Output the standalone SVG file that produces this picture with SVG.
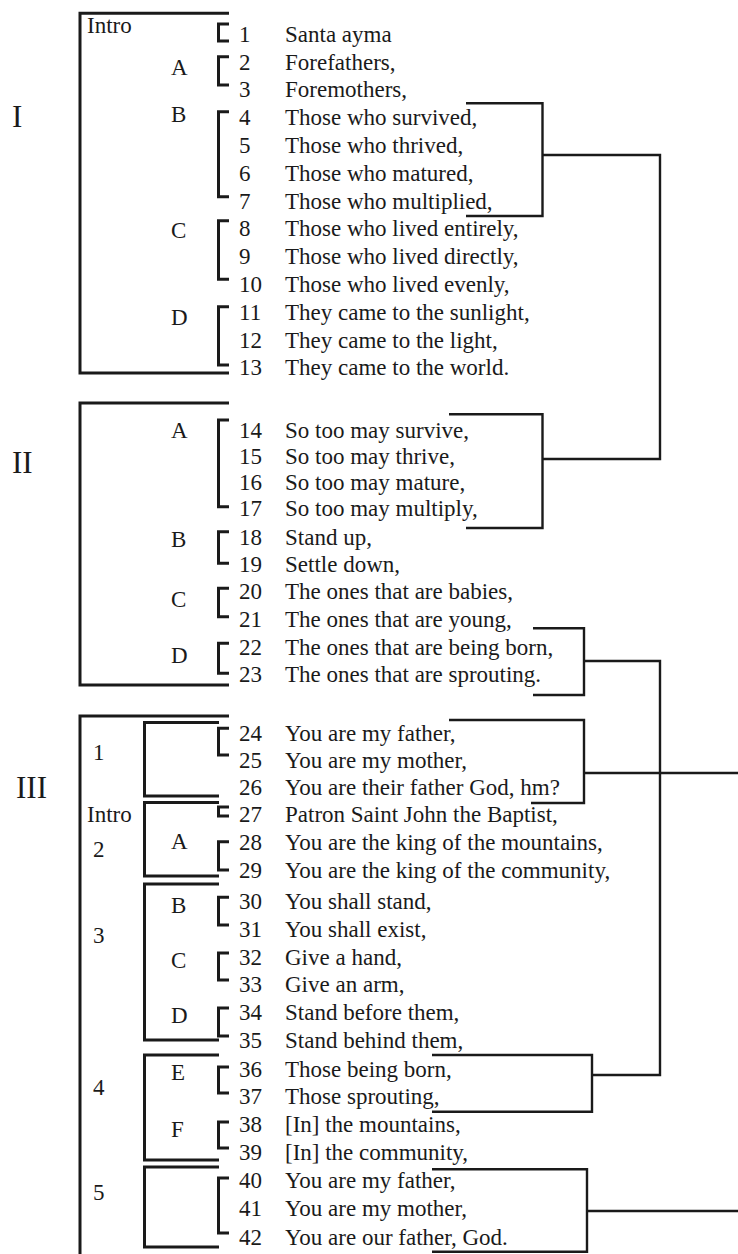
<svg xmlns="http://www.w3.org/2000/svg" width="738" height="1254" viewBox="0 0 738 1254">
<style>
text{font-family:"Liberation Serif","Times New Roman",serif;fill:#1a1a1a}
.t{font-size:23px}
.rn{font-size:31px}
.box,.br,.cn{fill:none;stroke:#1a1a1a;stroke-linejoin:miter}
.box{stroke-width:3}
.br{stroke-width:3}
.cn{stroke-width:2.4}
</style>
<rect width="738" height="1254" fill="#fff"/>
<g id="section-I">
<text class="rn" x="12" y="126.7">I</text>
<path class="box" d="M229 13.3H80V373H229"/>
<text class="t" x="87" y="33.3">Intro</text>
<text class="t" x="171" y="75">A</text>
<text class="t" x="171" y="122">B</text>
<text class="t" x="171" y="238">C</text>
<text class="t" x="171" y="325">D</text>
<path class="br" d="M229 24H218.5V41H229M229 56.7H218.5V85H229M229 111.7H218.5V196.7H229M229 220.7H218.5V279.3H229M229 306.7H218.5V365H229"/>
<g class="t">
<text class="t" x="239" y="41.7">1</text><text class="t" x="285" y="41.7">Santa ayma</text>
<text class="t" x="239" y="69.5">2</text><text class="t" x="285" y="69.5">Forefathers,</text>
<text class="t" x="239" y="97.3">3</text><text class="t" x="285" y="97.3">Foremothers,</text>
<text class="t" x="239" y="125.1">4</text><text class="t" x="285" y="125.1">Those who survived,</text>
<text class="t" x="239" y="152.9">5</text><text class="t" x="285" y="152.9">Those who thrived,</text>
<text class="t" x="239" y="180.7">6</text><text class="t" x="285" y="180.7">Those who matured,</text>
<text class="t" x="239" y="208.5">7</text><text class="t" x="285" y="208.5">Those who multiplied,</text>
<text class="t" x="239" y="236.3">8</text><text class="t" x="285" y="236.3">Those who lived entirely,</text>
<text class="t" x="239" y="264.1">9</text><text class="t" x="285" y="264.1">Those who lived directly,</text>
<text class="t" x="239" y="291.9">10</text><text class="t" x="285" y="291.9">Those who lived evenly,</text>
<text class="t" x="239" y="319.7">11</text><text class="t" x="285" y="319.7">They came to the sunlight,</text>
<text class="t" x="239" y="347.5">12</text><text class="t" x="285" y="347.5">They came to the light,</text>
<text class="t" x="239" y="375.3">13</text><text class="t" x="285" y="375.3">They came to the world.</text>
</g>
</g>
<g id="section-II">
<text class="rn" x="12" y="473">II</text>
<path class="box" d="M229 403H80V685H229"/>
<text class="t" x="171" y="438">A</text>
<text class="t" x="171" y="547">B</text>
<text class="t" x="171" y="607">C</text>
<text class="t" x="171" y="663">D</text>
<path class="br" d="M229 420H218.5V506.7H229M229 531.7H218.5V563.3H229M229 588.3H218.5V616.7H229M229 643.3H218.5V673.3H229"/>
<text class="t" x="239" y="438">14</text><text class="t" x="285" y="438">So too may survive,</text>
<text class="t" x="239" y="464">15</text><text class="t" x="285" y="464">So too may thrive,</text>
<text class="t" x="239" y="490">16</text><text class="t" x="285" y="490">So too may mature,</text>
<text class="t" x="239" y="516">17</text><text class="t" x="285" y="516">So too may multiply,</text>
<text class="t" x="239" y="545">18</text><text class="t" x="285" y="545">Stand up,</text>
<text class="t" x="239" y="572">19</text><text class="t" x="285" y="572">Settle down,</text>
<text class="t" x="239" y="599">20</text><text class="t" x="285" y="599">The ones that are babies,</text>
<text class="t" x="239" y="627">21</text><text class="t" x="285" y="627">The ones that are young,</text>
<text class="t" x="239" y="655">22</text><text class="t" x="285" y="655">The ones that are being born,</text>
<text class="t" x="239" y="682">23</text><text class="t" x="285" y="682">The ones that are sprouting.</text>
</g>
<g id="section-III">
<text class="rn" x="16" y="798">III</text>
<path class="box" d="M229 716H80V1254"/>
<path class="box" d="M219 722.5H144.5V796H219M219 802.5H144.5V876H219M219 884H144.5V1040H219M219 1055H144.5V1160H219M219 1167H144.5V1247H219"/>
<text class="t" x="93" y="760">1</text>
<text class="t" x="87" y="821.7">Intro</text>
<text class="t" x="93" y="857">2</text>
<text class="t" x="93" y="943">3</text>
<text class="t" x="93" y="1095">4</text>
<text class="t" x="93" y="1200">5</text>
<text class="t" x="171" y="849">A</text>
<text class="t" x="171" y="913">B</text>
<text class="t" x="171" y="968">C</text>
<text class="t" x="171" y="1023">D</text>
<text class="t" x="171" y="1080">E</text>
<text class="t" x="171" y="1137">F</text>
<path class="br" d="M229 728.3H218.5V755H229M229 807H218.5V816H229M229 841.7H218.5V870H229M229 897.3H218.5V925H229M229 953H218.5V980H229M229 1008H218.5V1036H229M229 1067H218.5V1093H229M229 1122H218.5V1148H229M229 1178H218.5V1233H229"/>
<text class="t" x="239" y="741">24</text><text class="t" x="285" y="741">You are my father,</text>
<text class="t" x="239" y="768">25</text><text class="t" x="285" y="768">You are my mother,</text>
<text class="t" x="239" y="795">26</text><text class="t" x="285" y="795">You are their father God, hm?</text>
<text class="t" x="239" y="822">27</text><text class="t" x="285" y="822">Patron Saint John the Baptist,</text>
<text class="t" x="239" y="850">28</text><text class="t" x="285" y="850">You are the king of the mountains,</text>
<text class="t" x="239" y="878">29</text><text class="t" x="285" y="878">You are the king of the community,</text>
<text class="t" x="239" y="909">30</text><text class="t" x="285" y="909">You shall stand,</text>
<text class="t" x="239" y="937">31</text><text class="t" x="285" y="937">You shall exist,</text>
<text class="t" x="239" y="965">32</text><text class="t" x="285" y="965">Give a hand,</text>
<text class="t" x="239" y="992">33</text><text class="t" x="285" y="992">Give an arm,</text>
<text class="t" x="239" y="1020">34</text><text class="t" x="285" y="1020">Stand before them,</text>
<text class="t" x="239" y="1048">35</text><text class="t" x="285" y="1048">Stand behind them,</text>
<text class="t" x="239" y="1077">36</text><text class="t" x="285" y="1077">Those being born,</text>
<text class="t" x="239" y="1104">37</text><text class="t" x="285" y="1104">Those sprouting,</text>
<text class="t" x="239" y="1132">38</text><text class="t" x="285" y="1132">[In] the mountains,</text>
<text class="t" x="239" y="1160">39</text><text class="t" x="285" y="1160">[In] the community,</text>
<text class="t" x="239" y="1188">40</text><text class="t" x="285" y="1188">You are my father,</text>
<text class="t" x="239" y="1216">41</text><text class="t" x="285" y="1216">You are my mother,</text>
<text class="t" x="239" y="1245">42</text><text class="t" x="285" y="1245">You are our father, God.</text>
</g>
<g id="connectors">
<path class="cn" d="M466 103.3H542.5V216H466"/>
<path class="cn" d="M542.5 155H660V459H542.5"/>
<path class="cn" d="M449 414.3H542.5V528H466"/>
<path class="cn" d="M533 628.3H584V695H533"/>
<path class="cn" d="M584 661H660V1075H592"/>
<path class="cn" d="M449 720H584V803H531"/>
<path class="cn" d="M584 773H738"/>
<path class="cn" d="M432 1055H592V1111.7H432"/>
<path class="cn" d="M432 1169.3H587V1251.7H432"/>
<path class="cn" d="M587 1211H738"/>
</g>
</svg>
